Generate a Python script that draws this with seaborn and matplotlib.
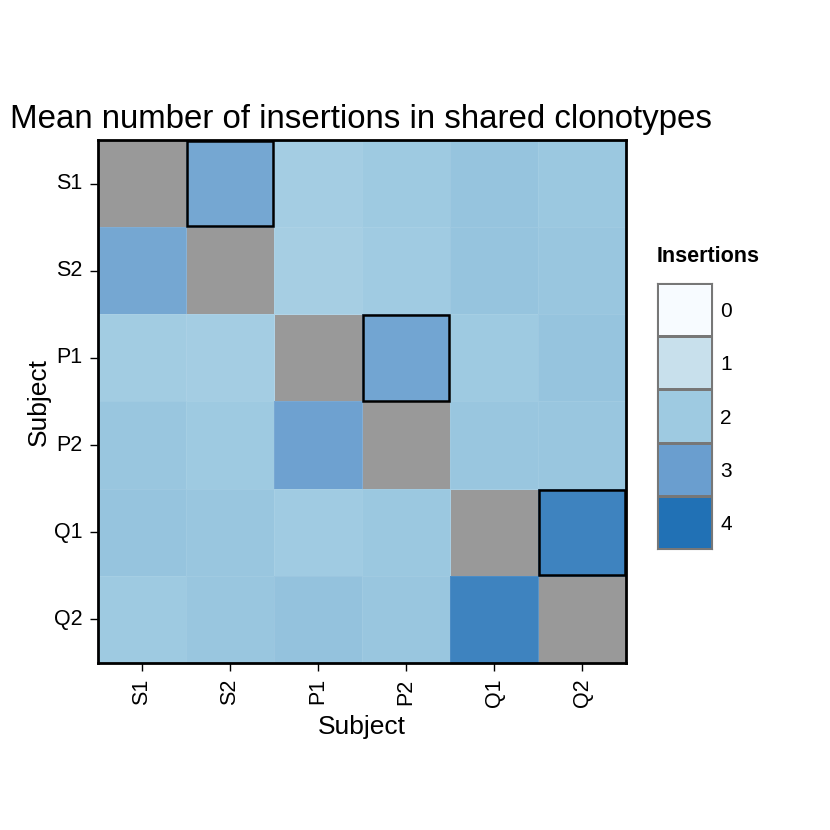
import numpy as np
import pandas as pd
import matplotlib
matplotlib.use("Agg")
import matplotlib.pyplot as plt
from matplotlib.colors import LinearSegmentedColormap
from matplotlib.patches import Rectangle
import seaborn as sns

sns.set_theme(style="white")
plt.rcParams['font.family'] = ['Liberation Sans', 'DejaVu Sans']
plt.rcParams.update({'text.color': 'black', 'axes.labelcolor': 'black',
                     'xtick.color': 'black', 'ytick.color': 'black'})

subjects = ["S1", "S2", "P1", "P2", "Q1", "Q2"]
row_s1 = [np.nan, 2.8, 1.85, 2.0, 2.15, 2.05]
row_s2 = [2.8, np.nan, 1.8, 1.95, 2.15, 2.1]
row_p1 = [1.9, 1.85, np.nan, 2.85, 2.0, 2.15]
row_p2 = [2.1, 2.0, 2.95, np.nan, 2.1, 2.1]
row_q1 = [2.15, 2.1, 1.95, 2.05, np.nan, 3.6]
row_q2 = [2.0, 2.1, 2.2, 2.1, 3.6, np.nan]
highlight = [("S1", "S2"), ("P1", "P2"), ("Q1", "Q2")]
legend_levels = [0, 1, 2, 3, 4]
legend_colors = ["#F7FBFF", "#C8E0EC", "#9ECAE1", "#6B9FCF", "#2171B5"]

df = pd.DataFrame([row_s1, row_s2, row_p1, row_p2, row_q1, row_q2],
                  index=subjects, columns=subjects)

cmap = LinearSegmentedColormap.from_list("ins", legend_colors)

fig = plt.figure(figsize=(8.3, 8.3), dpi=100)
ax = fig.add_axes([98/830, 1 - 663/830, 528/830, 523/830])
ax.set_facecolor("#999999")
sns.heatmap(df, ax=ax, cmap=cmap, vmin=0, vmax=4, cbar=False,
            linewidths=0.4, linecolor=(1, 1, 1, 0.08), square=False)

for r, c in highlight:
    i, j = subjects.index(r), subjects.index(c)
    ax.add_patch(Rectangle((j + 0.01, i + 0.01), 0.98, 0.98, fill=False,
                           edgecolor="black", lw=1.8, zorder=5))

for s in ax.spines.values():
    s.set_visible(True)
    s.set_color("black")
    s.set_linewidth(2)
ax.tick_params(axis="both", which="both", direction="out", length=6, width=1,
               color="black", bottom=True, left=True, labelsize=15.5, pad=5)
ax.set_xticklabels(subjects, rotation=90)
ax.set_yticklabels(subjects, rotation=0)
ax.set_xlabel("Subject", fontsize=19, labelpad=6)
ax.set_ylabel("Subject", fontsize=19, labelpad=2)
fig.text(10/830, 1 - 128/830, "Mean number of insertions in shared clonotypes",
         fontsize=23.8, ha="left", va="baseline")

# legend as stacked blocks
lax = fig.add_axes([657/830, 1 - 549/830, 55/830, 266/830])
leg = pd.DataFrame({"v": legend_levels}, index=[str(v) for v in legend_levels])
sns.heatmap(leg, ax=lax, cmap=cmap, vmin=0, vmax=4, cbar=False,
            linewidths=0.8, linecolor="#777777")
for s in lax.spines.values():
    s.set_visible(True)
    s.set_color("#777777")
    s.set_linewidth(0.8)
lax.yaxis.tick_right()
lax.set_yticklabels([str(v) for v in legend_levels], rotation=0)
lax.tick_params(axis="y", length=0, labelsize=15, pad=6, right=False)
lax.set_xticks([])
lax.set_xlabel("")
lax.set_ylabel("")
fig.text(657/830, 1 - 257/830, "Insertions", fontsize=15.5, fontweight="bold",
         ha="left", va="center")

fig.savefig("out.png", dpi=100, facecolor="white")
